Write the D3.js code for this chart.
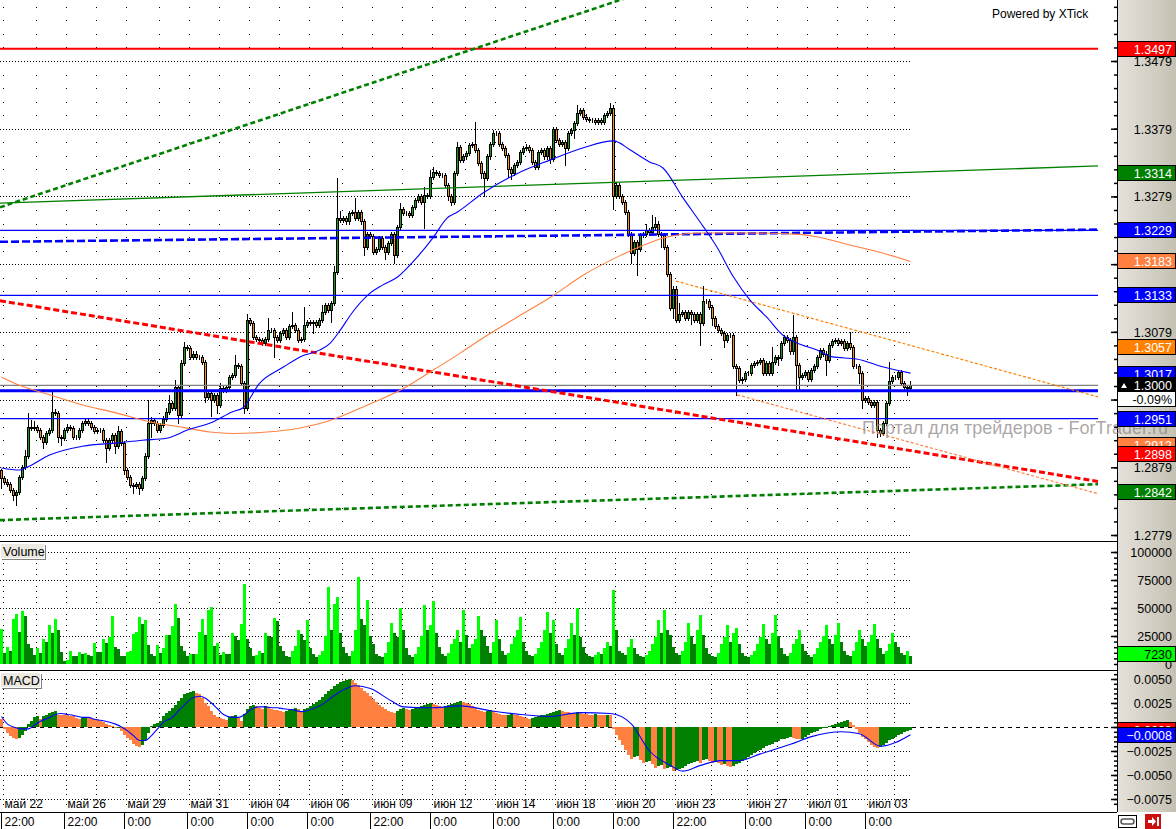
<!DOCTYPE html>
<html><head><meta charset="utf-8">
<script src="https://cdn.jsdelivr.net/npm/d3@7"></script>
<style>
html,body{margin:0;padding:0;background:#fff;overflow:hidden;}
svg{display:block;font-family:"Liberation Sans",Arial,sans-serif;}
</style></head><body>
<svg id="c" width="1176" height="829"></svg>
<script>
// ---------------- DATA ----------------
const opens = [
1.2875,1.2863,1.2858,1.2855,1.2846,1.2838,1.2843,1.2865,1.2880,1.2895,
1.2939,1.2937,1.2939,1.2934,1.2924,1.2917,1.2929,1.2934,1.2961,1.2959,
1.2924,1.2922,1.2934,1.2939,1.2937,1.2924,1.2924,1.2934,1.2944,1.2947,
1.2944,1.2939,1.2932,1.2934,1.2934,1.2919,1.2907,1.2919,1.2927,1.2910,
1.2932,1.2915,1.2875,1.2865,1.2853,1.2851,1.2855,1.2848,1.2863,1.2895,
1.2944,1.2949,1.2944,1.2934,1.2942,1.2951,1.2961,1.2974,1.2966,1.2998,
1.2956,1.3033,1.3057,1.3055,1.3042,1.3047,1.3042,1.3042,1.3035,1.2983,
1.2988,1.2978,1.2986,1.2971,1.2996,1.2993,1.2998,1.3013,1.3015,1.3030,
1.3028,1.3003,1.2966,1.3097,1.3092,1.3072,1.3069,1.3067,1.3062,1.3069,
1.3082,1.3082,1.3072,1.3067,1.3077,1.3082,1.3072,1.3087,1.3089,1.3082,
1.3067,1.3069,1.3089,1.3094,1.3092,1.3094,1.3089,1.3097,1.3109,1.3119,
1.3111,1.3121,1.3168,1.3247,1.3244,1.3247,1.3242,1.3254,1.3256,1.3247,
1.3256,1.3242,1.3205,1.3224,1.3220,1.3197,1.3202,1.3217,1.3205,1.3197,
1.3210,1.3224,1.3192,1.3234,1.3261,1.3254,1.3254,1.3252,1.3264,1.3274,
1.3279,1.3271,1.3281,1.3279,1.3308,1.3315,1.3313,1.3311,1.3311,1.3296,
1.3279,1.3271,1.3313,1.3352,1.3333,1.3338,1.3343,1.3355,1.3357,1.3347,
1.3328,1.3313,1.3306,1.3338,1.3357,1.3372,1.3372,1.3357,1.3350,1.3340,
1.3320,1.3313,1.3325,1.3330,1.3345,1.3350,1.3352,1.3347,1.3330,1.3323,
1.3345,1.3347,1.3338,1.3350,1.3335,1.3379,1.3362,1.3357,1.3360,1.3350,
1.3372,1.3377,1.3387,1.3402,1.3407,1.3397,1.3394,1.3392,1.3392,1.3389,
1.3392,1.3389,1.3399,1.3402,1.3409,1.3279,1.3296,1.3279,1.3271,1.3256,
1.3224,1.3195,1.3212,1.3202,1.3222,1.3224,1.3229,1.3227,1.3234,1.3239,
1.3224,1.3222,1.3205,1.3165,1.3114,1.3143,1.3097,1.3106,1.3109,1.3099,
1.3109,1.3106,1.3097,1.3106,1.3092,1.3124,1.3124,1.3116,1.3099,1.3087,
1.3082,1.3077,1.3067,1.3074,1.3074,1.3028,1.3025,1.3008,1.3010,1.3018,
1.3018,1.3030,1.3033,1.3035,1.3037,1.3018,1.3033,1.3018,1.3035,1.3042,
1.3040,1.3062,1.3072,1.3067,1.3050,1.3072,1.3030,1.3013,1.3015,1.3020,
1.3010,1.3023,1.3028,1.3042,1.3052,1.3047,1.3037,1.3060,1.3065,1.3067,
1.3062,1.3065,1.3055,1.3062,1.3057,1.3028,1.3028,1.3018,1.2978,1.2981,
1.2976,1.2971,1.2976,1.2934,1.2929,1.2944,1.2974,1.3006,1.3013,1.3013,
1.3020,1.3003,1.2998,1.2996];
const closes = [
1.2863,1.2858,1.2855,1.2846,1.2838,1.2843,1.2865,1.2880,1.2895,1.2939,
1.2937,1.2939,1.2934,1.2924,1.2917,1.2929,1.2934,1.2961,1.2959,1.2924,
1.2922,1.2934,1.2939,1.2937,1.2924,1.2924,1.2934,1.2944,1.2947,1.2944,
1.2939,1.2932,1.2934,1.2934,1.2919,1.2907,1.2919,1.2927,1.2910,1.2932,
1.2915,1.2875,1.2865,1.2853,1.2851,1.2855,1.2848,1.2863,1.2895,1.2944,
1.2949,1.2944,1.2934,1.2942,1.2951,1.2961,1.2974,1.2966,1.2998,1.2956,
1.3033,1.3057,1.3055,1.3042,1.3047,1.3042,1.3042,1.3035,1.2983,1.2988,
1.2978,1.2986,1.2971,1.2996,1.2993,1.2998,1.3013,1.3015,1.3030,1.3028,
1.3003,1.2966,1.3097,1.3092,1.3072,1.3069,1.3067,1.3062,1.3069,1.3082,
1.3082,1.3072,1.3067,1.3077,1.3082,1.3072,1.3087,1.3089,1.3082,1.3067,
1.3069,1.3089,1.3094,1.3092,1.3094,1.3089,1.3097,1.3109,1.3119,1.3111,
1.3121,1.3168,1.3247,1.3244,1.3247,1.3242,1.3254,1.3256,1.3247,1.3256,
1.3242,1.3205,1.3224,1.3220,1.3197,1.3202,1.3217,1.3205,1.3197,1.3210,
1.3224,1.3192,1.3234,1.3261,1.3254,1.3254,1.3252,1.3264,1.3274,1.3279,
1.3271,1.3281,1.3279,1.3308,1.3315,1.3313,1.3311,1.3311,1.3296,1.3279,
1.3271,1.3313,1.3352,1.3333,1.3338,1.3343,1.3355,1.3357,1.3347,1.3328,
1.3313,1.3306,1.3338,1.3357,1.3372,1.3372,1.3357,1.3350,1.3340,1.3320,
1.3313,1.3325,1.3330,1.3345,1.3350,1.3352,1.3347,1.3330,1.3323,1.3345,
1.3347,1.3338,1.3350,1.3335,1.3379,1.3362,1.3357,1.3360,1.3350,1.3372,
1.3377,1.3387,1.3402,1.3407,1.3397,1.3394,1.3392,1.3392,1.3389,1.3392,
1.3389,1.3399,1.3402,1.3409,1.3279,1.3296,1.3279,1.3271,1.3256,1.3224,
1.3195,1.3212,1.3202,1.3222,1.3224,1.3229,1.3227,1.3234,1.3239,1.3224,
1.3222,1.3205,1.3165,1.3114,1.3143,1.3097,1.3106,1.3109,1.3099,1.3109,
1.3106,1.3097,1.3106,1.3092,1.3124,1.3124,1.3116,1.3099,1.3087,1.3082,
1.3077,1.3067,1.3074,1.3074,1.3028,1.3025,1.3008,1.3010,1.3018,1.3018,
1.3030,1.3033,1.3035,1.3037,1.3018,1.3033,1.3018,1.3035,1.3042,1.3040,
1.3062,1.3072,1.3067,1.3050,1.3072,1.3030,1.3013,1.3015,1.3020,1.3010,
1.3023,1.3028,1.3042,1.3052,1.3047,1.3037,1.3060,1.3065,1.3067,1.3062,
1.3065,1.3055,1.3062,1.3057,1.3028,1.3028,1.3018,1.2978,1.2981,1.2976,
1.2971,1.2976,1.2934,1.2929,1.2944,1.2974,1.3006,1.3013,1.3013,1.3020,
1.3003,1.2998,1.2996,1.3000];
// wick lengths above body / below body, in pips
const upWick = [
2,3,3,3,3,3,3,3,10,20, 10,8,3,3,3,3,3,32,4,3, 3,3,4,3,3,3,3,4,3,3, 3,3,3,3,3,3,3,3,3,8,
3,3,3,3,3,3,3,3,5,34, 5,3,3,3,4,5,12,3,10,3, 5,7,3,3,3,3,3,3,3,3, 3,3,3,8,3,3,3,3,15,3,
3,3,9,3,3,3,3,3,3,17, 3,3,3,3,3,3,3,20,3,3, 3,27,3,3,3,3,3,10,3,3, 3,8,59,10,3,3,3,3,20,3,
3,3,3,3,3,3,3,3,3,3, 3,3,3,8,3,3,3,3,3,3, 3,12,3,10,8,3,3,3,3,3, 3,3,8,3,3,3,3,3,32,3,
3,3,3,3,5,3,3,3,3,3, 3,3,3,3,3,5,3,3,3,3, 3,3,3,3,3,3,3,3,3,3, 3,3,12,3,3,3,3,3,3,3,
3,3,3,8,5,5,3,3,3,3, 3,3,3,3,3,10,3,17,10,3, 3,3,3,3,3,3,15,3,3,3, 3,3,3,3,22,3,3,3,3,3,
3,3,3,3,3,3,3,3,3,3, 3,3,3,3,3,3,3,22,3,3, 3,3,3,3,32,3,3,3,3,3, 3,3,3,3,3,3,3,3,3,3,
3,4,3,17,3,3,3,3,3,3, 3,3,3,3,3,3,29,3,3,3, 3,3,3,6];
const dnWick = [
15,3,3,3,8,15,3,3,3,3, 3,3,3,3,10,3,3,3,3,8, 10,3,3,3,3,3,3,3,3,3, 3,3,3,3,3,20,3,3,10,3,
3,6,3,3,10,3,8,3,3,3, 20,3,3,3,3,3,3,3,3,12, 3,3,3,3,3,3,3,3,8,3, 24,3,12,3,3,3,3,3,3,3,
3,7,3,3,3,3,3,3,3,3, 3,30,3,3,3,3,3,3,3,3, 3,3,3,3,15,3,3,3,3,3, 17,3,3,3,3,3,3,3,3,3,
3,13,3,3,3,3,3,3,10,3, 3,12,3,3,3,3,3,3,3,3, 3,39,3,3,3,3,3,3,3,5, 5,3,3,3,3,3,3,3,3,3,
7,27,3,3,3,3,3,3,3,12, 8,3,3,3,3,3,3,3,3,3, 3,3,3,7,3,3,3,3,25,3, 3,12,3,3,3,3,3,3,3,3,
3,3,3,3,18,3,3,3,3,3, 15,3,39,3,3,3,3,3,3,3, 17,3,3,3,15,3,3,3,3,3, 15,3,3,32,3,3,3,10,3,3,
3,10,3,3,3,39,3,5,3,3, 3,3,3,3,3,3,3,3,3,10, 3,3,3,3,3,37,20,3,3,3, 3,3,3,3,3,22,3,3,3,3,
3,3,3,3,3,3,15,12,3,3, 3,3,10,4,3,3,3,3,3,3, 3,3,10,3];
const volumes = [
31000,10000,15000,12000,40000,45000,29000,47000,43000,18000,
14000,8000,14000,10000,22000,20000,35000,28000,40000,30000,
11000,3000,4000,12000,7000,7000,11000,9000,10000,8000,
7000,19000,11000,11000,22000,19000,24000,43000,15000,13000,
7000,7000,11000,12000,27000,29000,42000,36000,39000,17000,
9000,7000,17000,10000,14000,26000,26000,34000,54000,41000,
16000,12000,7000,8500,8500,9000,29000,40000,26000,48000,
51000,16000,19000,8000,11000,9000,9000,28000,25000,21000,
36000,71000,22000,14000,7000,8000,12000,10000,28000,25000,
24000,41000,38000,16000,12000,7000,6000,12000,16000,30000,
27000,21000,39000,14000,9000,6000,8000,12000,25000,69000,
30000,54000,60000,28000,15000,10000,7000,12000,30000,78000,
40000,35000,57000,25000,18000,9000,7000,6000,10000,20000,
37000,28000,24000,50000,30000,14000,8000,6000,9000,15000,
25000,53000,30000,35000,56000,28000,15000,9000,7000,10000,
18000,22000,30000,20000,48000,26000,14000,18000,22000,43000,
30000,25000,16000,10000,20000,39000,22000,12000,8000,10000,
18000,24000,30000,42000,20000,12000,8000,7000,9000,14000,
20000,30000,46000,28000,39000,18000,10000,8000,14000,22000,
37000,26000,50000,24000,15000,9000,7000,6000,8000,11000,
9000,14000,20000,16000,66000,30000,12000,10000,8000,15000,
22000,14000,9000,7000,6000,8000,12000,18000,24000,39000,
28000,48000,30000,26000,15000,10000,8000,12000,20000,37000,
25000,18000,30000,44000,26000,14000,9000,7000,6000,10000,
18000,24000,35000,20000,28000,32000,18000,10000,7000,6000,
8000,12000,18000,24000,36000,22000,18000,28000,44000,25000,
14000,9000,7000,10000,18000,22000,30000,18000,12000,8000,
6000,9000,14000,20000,25000,35000,22000,18000,26000,37000,
20000,12000,8000,7000,12000,20000,30000,22000,16000,20000,
26000,36000,22000,14000,9000,12000,18000,28000,20000,15000,
10000,8000,12000,7230];
const macdHist = [
0.0008,-0.0002,-0.0006,-0.0009,-0.0011,-0.0012,-0.0011,-0.0008,-0.0004,0.0003,
0.0006,0.0010,0.0011,0.0008,0.0011,0.0013,0.0015,0.0016,0.0017,0.0013,
0.0013,0.0013,0.0012,0.0011,0.0011,0.0009,0.0008,0.0009,0.0010,0.0009,
0.0009,0.0008,0.0008,0.0006,0.0005,0.0003,0.0002,0.0001,-0.0001,0.0000,
-0.0004,-0.0008,-0.0011,-0.0014,-0.0018,-0.0020,-0.0021,-0.0019,-0.0014,-0.0006,
0.0001,0.0003,0.0004,0.0006,0.0011,0.0015,0.0017,0.0020,0.0023,0.0027,
0.0030,0.0034,0.0035,0.0036,0.0037,0.0035,0.0034,0.0030,0.0025,0.0022,
0.0017,0.0012,0.0010,0.0009,0.0008,0.0007,0.0010,0.0011,0.0012,0.0009,
0.0006,0.0014,0.0019,0.0022,0.0023,0.0022,0.0020,0.0019,0.0022,0.0021,
0.0019,0.0018,0.0018,0.0017,0.0016,0.0017,0.0018,0.0019,0.0020,0.0019,
0.0017,0.0019,0.0020,0.0022,0.0024,0.0026,0.0028,0.0031,0.0034,0.0037,
0.0040,0.0043,0.0045,0.0047,0.0048,0.0049,0.0050,0.0049,0.0046,0.0044,
0.0041,0.0038,0.0035,0.0032,0.0029,0.0026,0.0023,0.0021,0.0019,0.0017,
0.0016,0.0015,0.0017,0.0019,0.0020,0.0019,0.0018,0.0019,0.0020,0.0021,
0.0022,0.0023,0.0024,0.0025,0.0024,0.0023,0.0022,0.0021,0.0022,0.0023,
0.0024,0.0025,0.0026,0.0027,0.0026,0.0025,0.0024,0.0022,0.0020,0.0018,
0.0017,0.0016,0.0017,0.0018,0.0017,0.0015,0.0014,0.0013,0.0012,0.0013,
0.0014,0.0013,0.0012,0.0011,0.0010,0.0009,0.0008,0.0009,0.0010,0.0011,
0.0012,0.0013,0.0014,0.0015,0.0016,0.0017,0.0018,0.0017,0.0016,0.0016,
0.0015,0.0015,0.0016,0.0015,0.0014,0.0014,0.0013,0.0013,0.0014,0.0013,
0.0012,0.0012,0.0013,0.0013,-0.0002,-0.0008,-0.0014,-0.0019,-0.0024,-0.0029,
-0.0033,-0.0031,-0.0030,-0.0034,-0.0038,-0.0036,-0.0035,-0.0039,-0.0043,-0.0041,
-0.0040,-0.0044,-0.0043,-0.0042,-0.0046,-0.0045,-0.0044,-0.0043,-0.0041,-0.0039,
-0.0037,-0.0036,-0.0035,-0.0037,-0.0034,-0.0033,-0.0035,-0.0037,-0.0036,-0.0038,
-0.0040,-0.0039,-0.0041,-0.0042,-0.0041,-0.0039,-0.0037,-0.0035,-0.0033,-0.0031,
-0.0029,-0.0027,-0.0025,-0.0024,-0.0022,-0.0020,-0.0019,-0.0018,-0.0016,-0.0015,
-0.0013,-0.0012,-0.0011,-0.0010,-0.0011,-0.0012,-0.0013,-0.0012,-0.0010,-0.0008,
-0.0006,-0.0005,-0.0004,-0.0002,-0.0001,0.0000,0.0001,0.0002,0.0003,0.0004,
0.0005,0.0006,0.0007,0.0005,0.0002,-0.0002,-0.0006,-0.0010,-0.0013,-0.0016,
-0.0019,-0.0021,-0.0022,-0.0021,-0.0019,-0.0017,-0.0014,-0.0012,-0.0010,-0.0008,
-0.0007,-0.0005,-0.0004,-0.0003];
// [bar, value]
const macdSignal = [[0,0.0011],[2,0.0003],[4,0.0000],[7,-0.0002],[9,-0.0002],[11,0.0002],[13,0.0006],[16,0.0010],[18,0.0013],[20,0.0014],[22,0.0013],[24,0.0012],[27,0.0010],[29,0.0010],[31,0.0008],[33,0.0007],[36,0.0005],[38,0.0003],[40,0.0000],[42,-0.0004],[44,-0.0009],[46,-0.0014],[48,-0.0014],[50,-0.0009],[52,-0.0002],[54,0.0005],[57,0.0010],[59,0.0017],[61,0.0023],[63,0.0029],[66,0.0032],[68,0.0030],[70,0.0025],[72,0.0019],[74,0.0013],[77,0.0010],[79,0.0010],[81,0.0013],[83,0.0018],[86,0.0021],[88,0.0021],[90,0.0020],[92,0.0020],[94,0.0019],[97,0.0018],[100,0.0016],[106,0.0022],[113,0.0037],[118,0.0043],[123,0.0040],[130,0.0027],[134,0.0021],[143,0.0020],[153,0.0022],[163,0.0017],[173,0.0013],[183,0.0011],[193,0.0015],[203,0.0014],[210,0.0003],[216,-0.0025],[223,-0.0040],[227,-0.0046],[233,-0.0040],[240,-0.0035],[246,-0.0035],[253,-0.0028],[263,-0.0018],[270,-0.0010],[280,-0.0005],[286,-0.0007],[293,-0.0020],[303,-0.0008]];
// moving averages, [bar, price]
const maBlue = [[0,1.2878],[6,1.2875],[8.5,1.2879],[16,1.2897],[27,1.2910],[38.5,1.2915],[47,1.2919],[55,1.2922],[62,1.2934],[70.5,1.2946],[77,1.2961],[80.5,1.2967],[86,1.3003],[94,1.3027],[99.5,1.3042],[106,1.3052],[109.5,1.3062],[113,1.3082],[117,1.3108],[122,1.3133],[127,1.3148],[132,1.3160],[138.5,1.3189],[144,1.3219],[148.5,1.3247],[152,1.3256],[160.5,1.3284],[172,1.3313],[183,1.3333],[194,1.3351],[204,1.3361],[209.5,1.3348],[216,1.3330],[220.5,1.3321],[227,1.3278],[234,1.3234],[238.5,1.3204],[244,1.3160],[249.5,1.3126],[255,1.3101],[260.5,1.3074],[265,1.3063],[272,1.3052],[277,1.3042],[285,1.3039],[294,1.3027],[303,1.3018]];
const maOrange = [[0,1.3012],[6,1.3000],[16,1.2986],[27,1.2971],[38.5,1.2959],[49.5,1.2946],[60.5,1.2938],[69.5,1.2931],[77,1.2929],[88.5,1.2931],[99.5,1.2937],[109.5,1.2948],[122,1.2971],[133,1.2993],[143,1.3020],[153,1.3048],[160.5,1.3070],[172,1.3101],[183,1.3130],[194,1.3163],[205,1.3189],[214,1.3207],[222,1.3219],[233,1.3225],[249.5,1.3225],[266,1.3223],[272,1.3219],[283,1.3207],[294,1.3195],[303,1.3183]];
// horizontal levels and trend lines [barStart, priceStart, barEnd, priceEnd]
const levelPrices = [1.3497, 1.3229, 1.3133, 1.3000, 1.2992, 1.2951];
const trendLines = [
  [-0.5,1.3263,365.5,1.3805],
  [-0.5,1.3269,365.5,1.3324],
  [-0.5,1.3212,365.5,1.3230],
  [-0.5,1.3125,365.5,1.2858],
  [-0.5,1.2801,365.5,1.2854],
  [224.8,1.3154,365.5,1.2983],
  [245.2,1.2986,365.5,1.2840]];
const priceTagValues = [1.3497,1.3314,1.3229,1.3183,1.3133,1.3057,1.3017,1.3000,1.2951,1.2912,1.2898,1.2842];
const changeText = "-0.09%";
const volumeTag = 7230;
const macdTags = [-0.0003, -0.0008];
const priceTicks = [1.3479,1.3379,1.3279,1.3179,1.3079,1.2979,1.2879,1.2779];
const volumeTicks = [100000,75000,50000,25000,0];
const macdTicks = [0.0050,0.0025,0.0000,-0.0025,-0.0050,-0.0075];
const dateLabels = ["май 22","май 26","май 29","май 31","июн 04","июн 06","июн 09","июн 12","июн 14","июн 18","июн 20","июн 23","июн 27","июл 01","июл 03"];
const timeLabels = ["22:00","22:00","0:00","0:00","0:00","0:00","22:00","0:00","0:00","0:00","0:00","22:00","0:00","0:00","0:00"];
const labelBars = [0,21,41,62,82,102,123,143,164,184,204,224,248,268,288];
const watermark = "Портал для трейдеров - ForTrader.ru";
const credit = "Powered by XTick";

// ---------------- LAYOUT ----------------
const svg = d3.select("#c");
const AX = 1117;            // right axis line
const GRID_END = 912;
const x = d3.scaleLinear().domain([0, 303]).range([1.5, 910.5]);
const yMain = d3.scaleLinear().domain([1.2779, 1.3479]).range([535, 61]);
const yVol = d3.scaleLinear().domain([0, 100000]).range([664, 552]);
const yMacd = d3.scaleLinear().domain([-0.0075, 0.0050]).range([799, 679]);
const FONT = '"Liberation Sans", Arial, sans-serif';
const BULL = "#1a9a1a", BEAR = "#f39020";

const defs = svg.append("defs");
const grad = defs.append("linearGradient").attr("id","axg").attr("x1",0).attr("x2",1).attr("y1",0).attr("y2",0);
grad.append("stop").attr("offset","0%").attr("stop-color","#e6e2db");
grad.append("stop").attr("offset","100%").attr("stop-color","#c4c1b3");
function clip(id, y0, y1){ defs.append("clipPath").attr("id",id).append("rect").attr("x",0).attr("y",y0).attr("width",AX).attr("height",y1-y0); }
clip("cm",0,541); clip("cv",542,670); clip("cd",671,812);

svg.append("rect").attr("width",1176).attr("height",829).attr("fill","#fff");
svg.append("rect").attr("x",AX).attr("y",0).attr("width",1176-AX).attr("height",812).attr("fill","url(#axg)");

// ---------- grid helpers ----------
const gridBars = [];
labelBars.forEach((b,i)=>{ gridBars.push(b); if(i<labelBars.length-1) gridBars.push(Math.round((b+labelBars[i+1])/2)); });
gridBars.push(297);
const gridX = gridBars.map(b => Math.round(x(b)+1.5));
function denseLine(g, y){
  g.append("line").attr("x1",0).attr("x2",GRID_END).attr("y1",Math.round(y)+0.5).attr("y2",Math.round(y)+0.5)
   .attr("stroke","#000").attr("stroke-dasharray","1,2");
}
function dots(g, ys){
  gridX.forEach(gx => ys.forEach(y => { if (y>2) g.append("rect").attr("x",gx).attr("y",Math.round(y)).attr("width",1).attr("height",1).attr("fill","#000"); }));
}

// main grid
const gMainGrid = svg.append("g").attr("clip-path","url(#cm)");
const mainMinor = d3.range(0, 45).map(k => +(1.2759 + k*0.0020).toFixed(4));
dots(gMainGrid, mainMinor.filter(v => !priceTicks.some(t=>Math.abs(t-v)<1e-6)).map(yMain).filter(y=>y<540));
priceTicks.forEach(p => denseLine(gMainGrid, yMain(p)));

// volume grid
const gVolGrid = svg.append("g").attr("clip-path","url(#cv)");
dots(gVolGrid, d3.range(5000, 105000, 5000).filter(v=>v%25000).map(yVol));
[25000,50000,75000,100000].forEach(v => denseLine(gVolGrid, yVol(v)));

// macd grid
const gMacdGrid = svg.append("g").attr("clip-path","url(#cd)");
const macdMinor = d3.range(-16, 12).map(k => +(k*0.0005).toFixed(4)).filter(v => Math.abs(v*10000)%25 !== 0);
dots(gMacdGrid, macdMinor.map(yMacd).filter(y=>y>672 && y<811));
[0.0050,0.0025,-0.0025,-0.0050,-0.0075].forEach(v => denseLine(gMacdGrid, yMacd(v)));
gMacdGrid.append("line").attr("x1",0).attr("x2",AX).attr("y1",Math.round(yMacd(0))+0.5).attr("y2",Math.round(yMacd(0))+0.5)
  .attr("stroke","#000").attr("stroke-dasharray","4,4");

// ---------- main panel ----------
const gMain = svg.append("g").attr("clip-path","url(#cm)");
// candles
const gC = gMain.append("g");
closes.forEach((c,i)=>{
  const o = opens[i];
  const hi = Math.max(o,c) + upWick[i]*1e-4, lo = Math.min(o,c) - dnWick[i]*1e-4;
  const cx = Math.round(x(i)-0.5)+0.5;
  gC.append("line").attr("x1",cx).attr("x2",cx).attr("y1",Math.round(yMain(hi))).attr("y2",Math.round(yMain(lo))+1).attr("stroke","#000");
  const yt = Math.round(yMain(Math.max(o,c))), yb = Math.round(yMain(Math.min(o,c)));
  gC.append("rect").attr("x",cx-1).attr("y",yt+0.5).attr("width",2).attr("height",Math.max(yb-yt,0))
    .attr("fill", c>o ? BULL : (c<o ? BEAR : "#000")).attr("stroke","#000");
});
// levels
const levelStyle = [
  {c:"#ff0000",w:2},{c:"#0000ff",w:1.3},{c:"#0000ff",w:1.3},{c:"#808080",w:1.3},{c:"#0000ff",w:3},{c:"#0000ff",w:1.3}];
levelPrices.forEach((p,i)=>{
  const y = yMain(p);
  gMain.append("line").attr("x1",0).attr("x2",x(365.5)).attr("y1",y).attr("y2",y)
    .attr("stroke",levelStyle[i].c).attr("stroke-width",levelStyle[i].w);
});
// trend lines
const trendStyle = [
  {c:"#008000",w:2.6,d:"5,3"},{c:"#008000",w:1.3,d:null},{c:"#0000ff",w:2.6,d:"8,3"},
  {c:"#ff0000",w:3,d:"6,3"},{c:"#008000",w:2.6,d:"5,3"},{c:"#ff8000",w:1.2,d:"3,2"},{c:"#ff8040",w:1.2,d:"3,2"}];
trendLines.forEach((t,i)=>{
  const s = trendStyle[i];
  const l = gMain.append("line").attr("x1",x(t[0])).attr("y1",yMain(t[1])).attr("x2",x(t[2])).attr("y2",yMain(t[3]))
    .attr("stroke",s.c).attr("stroke-width",s.w);
  if (s.d) l.attr("stroke-dasharray",s.d);
});
// moving averages
const maLine = d3.line().x(d=>x(d[0])).y(d=>yMain(d[1])).curve(d3.curveMonotoneX);
gMain.append("path").attr("d",maLine(maOrange)).attr("fill","none").attr("stroke","#ff8040").attr("stroke-width",1.1);
gMain.append("path").attr("d",maLine(maBlue)).attr("fill","none").attr("stroke","#0000ff").attr("stroke-width",1.1);

// ---------- volume panel ----------
const gVol = svg.append("g").attr("clip-path","url(#cv)");
volumes.forEach((v,i)=>{
  const y = Math.round(yVol(v));
  gVol.append("rect").attr("x",Math.round(x(i)-1.5)).attr("y",y).attr("width",3).attr("height",Math.max(664-y,1))
    .attr("fill", (i>0 && v>volumes[i-1]) || i===0 ? "#00ff00" : "#008000");
});

// ---------- macd panel ----------
const gMacd = svg.append("g").attr("clip-path","url(#cd)");
const z0 = yMacd(0);
macdHist.forEach((v,i)=>{
  const y = yMacd(v);
  gMacd.append("rect").attr("x",Math.round(x(i)-1.5)).attr("y",Math.round(Math.min(y,z0))).attr("width",3)
    .attr("height",Math.max(Math.round(Math.abs(y-z0)),1))
    .attr("fill", i>0 && v>macdHist[i-1] ? "#008000" : "#ff8040");
});
const sigLine = d3.line().x(d=>x(d[0])).y(d=>yMacd(d[1])).curve(d3.curveMonotoneX);
gMacd.append("path").attr("d",sigLine(macdSignal)).attr("fill","none").attr("stroke","#0000ff").attr("stroke-width",1.1);

// ---------- borders ----------
[541.5, 670.5].forEach(y => svg.append("line").attr("x1",0).attr("x2",AX).attr("y1",y).attr("y2",y).attr("stroke","#000"));
svg.append("line").attr("x1",0).attr("x2",AX).attr("y1",812.5).attr("y2",812.5).attr("stroke","#000");
svg.append("line").attr("x1",AX+0.5).attr("x2",AX+0.5).attr("y1",0).attr("y2",812).attr("stroke","#000");

// ---------- axes ----------
function tickAxis(scale, vals, size){
  svg.append("g").attr("transform",`translate(${AX},0)`)
    .call(d3.axisLeft(scale).tickValues(vals).tickSize(size).tickFormat(""))
    .call(g=>{ g.select(".domain").remove(); g.selectAll("line").attr("stroke","#000").attr("stroke-width",1.5); });
}
function labelAxis(scale, vals, fmt){
  svg.append("g").attr("transform",`translate(1172,0)`)
    .call(d3.axisRight(scale).tickValues(vals).tickSize(0).tickPadding(0).tickFormat(fmt))
    .call(g=>{ g.select(".domain").remove();
      g.selectAll("text").attr("text-anchor","end").attr("x",0).attr("dy","0.36em")
       .attr("font-size",12.5).attr("font-family",FONT).attr("fill","#000"); });
}
tickAxis(yMain, mainMinor.filter(v=>yMain(v)>2 && yMain(v)<540), 3);
tickAxis(yMain, priceTicks, 6);
labelAxis(yMain, priceTicks, d3.format(".4f"));
tickAxis(yVol, d3.range(0, 105000, 5000).filter(v=>yVol(v)>544), 3);
tickAxis(yVol, [25000,50000,75000,100000], 6);
labelAxis(yVol, volumeTicks, d3.format("d"));
tickAxis(yMacd, d3.range(-16, 12).map(k=>k*0.0005).filter(v=>yMacd(v)>673 && yMacd(v)<811), 3);
tickAxis(yMacd, [0.0050,0.0025,0,-0.0025,-0.0050,-0.0075], 6);
labelAxis(yMacd, macdTicks, d3.format(".4f"));

// ---------- watermark ----------
svg.append("text").attr("x",862).attr("y",yMain(1.2951)+15).attr("font-family",FONT).attr("font-size",18.5)
  .attr("textLength",306).attr("lengthAdjust","spacingAndGlyphs")
  .attr("fill","#8f8a8a").attr("fill-opacity",0.75).text(watermark);

// ---------- tags ----------
function tag(y, bg, fg, txt, border){
  const g = svg.append("g");
  g.append("rect").attr("x",AX+0.5).attr("y",Math.round(y)-7.5).attr("width",1175.5-AX-0.5).attr("height",15)
    .attr("fill",bg).attr("stroke",border||"#000").attr("stroke-width",1);
  g.append("text").attr("x",1172).attr("y",Math.round(y)+4.5).attr("text-anchor","end")
    .attr("font-family",FONT).attr("font-size",12.5).attr("fill",fg).text(txt);
  return g;
}
const tagColors = ["#ff0000","#008000","#0000ff","#ff8040","#0000ff","#ff8000","#0000ff","#000000","#0000ff","#ff8040","#ff0000","#008000"];
const f4 = d3.format(".4f");
priceTagValues.forEach((p,i)=>{
  const g = tag(yMain(p), tagColors[i], "#fff", f4(p));
  if (p === 1.3000) {
    g.append("path").attr("d",`M${AX+4},${Math.round(yMain(p))+3} L${AX+7},${Math.round(yMain(p))-2} L${AX+10},${Math.round(yMain(p))+3} Z`).attr("fill","#fff");
    tag(yMain(p)+14, "#fff", "#000", changeText);
  }
});
tag(yVol(volumeTag)-2, "#00ff00", "#000", String(volumeTag));
tag(yMacd(macdTags[0]), "#ff0000", "#fff", f4(macdTags[0]));
tag(yMacd(macdTags[1]), "#0000ff", "#fff", f4(macdTags[1]));

// ---------- time axis ----------
labelBars.forEach((b,i)=>{
  const sx = Math.round(x(b)-0.5)+0.5;
  svg.append("text").attr("x",sx+3).attr("y",808).attr("font-family",FONT).attr("font-size",12).attr("fill","#000").text(dateLabels[i]);
  svg.append("line").attr("x1",sx).attr("x2",sx).attr("y1",813).attr("y2",829).attr("stroke","#000");
  svg.append("text").attr("x",sx+3).attr("y",826).attr("font-family",FONT).attr("font-size",12).attr("fill","#000").text(timeLabels[i]);
});

// ---------- panel captions ----------
function caption(x0, y0, w, txt){
  svg.append("rect").attr("x",x0+2).attr("y",y0+2).attr("width",w).attr("height",15).attr("fill","#808080");
  svg.append("rect").attr("x",x0+0.5).attr("y",y0+0.5).attr("width",w).attr("height",15).attr("fill","#ece9e2").attr("stroke","#fff");
  svg.append("text").attr("x",x0+3).attr("y",y0+13).attr("font-family",FONT).attr("font-size",12.5).attr("fill","#000").text(txt);
}
caption(0, 543, 44, "Volume");
caption(0, 672, 40, "MACD");
svg.append("text").attr("x",992).attr("y",18).attr("font-family",FONT).attr("font-size",12).attr("fill","#000").text(credit);

// ---------- corner icons ----------
svg.append("rect").attr("x",1118.5).attr("y",815.5).attr("width",18).attr("height",12).attr("fill","#fff").attr("stroke","#000");
svg.append("rect").attr("x",1121).attr("y",819).attr("width",13).attr("height",5).attr("rx",2.5).attr("fill","none").attr("stroke","#555").attr("stroke-width",1.5);
svg.append("rect").attr("x",1145).attr("y",814).attr("width",16).attr("height",15).attr("fill","#cc1010");
svg.append("path").attr("d","M1148,820 h4 v-3 l4,4.5 l-4,4.5 v-3 h-4 z").attr("fill","#fff");
svg.append("rect").attr("x",1157).attr("y",817).attr("width",2).attr("height",9).attr("fill","#fff");
</script>
</body></html>
